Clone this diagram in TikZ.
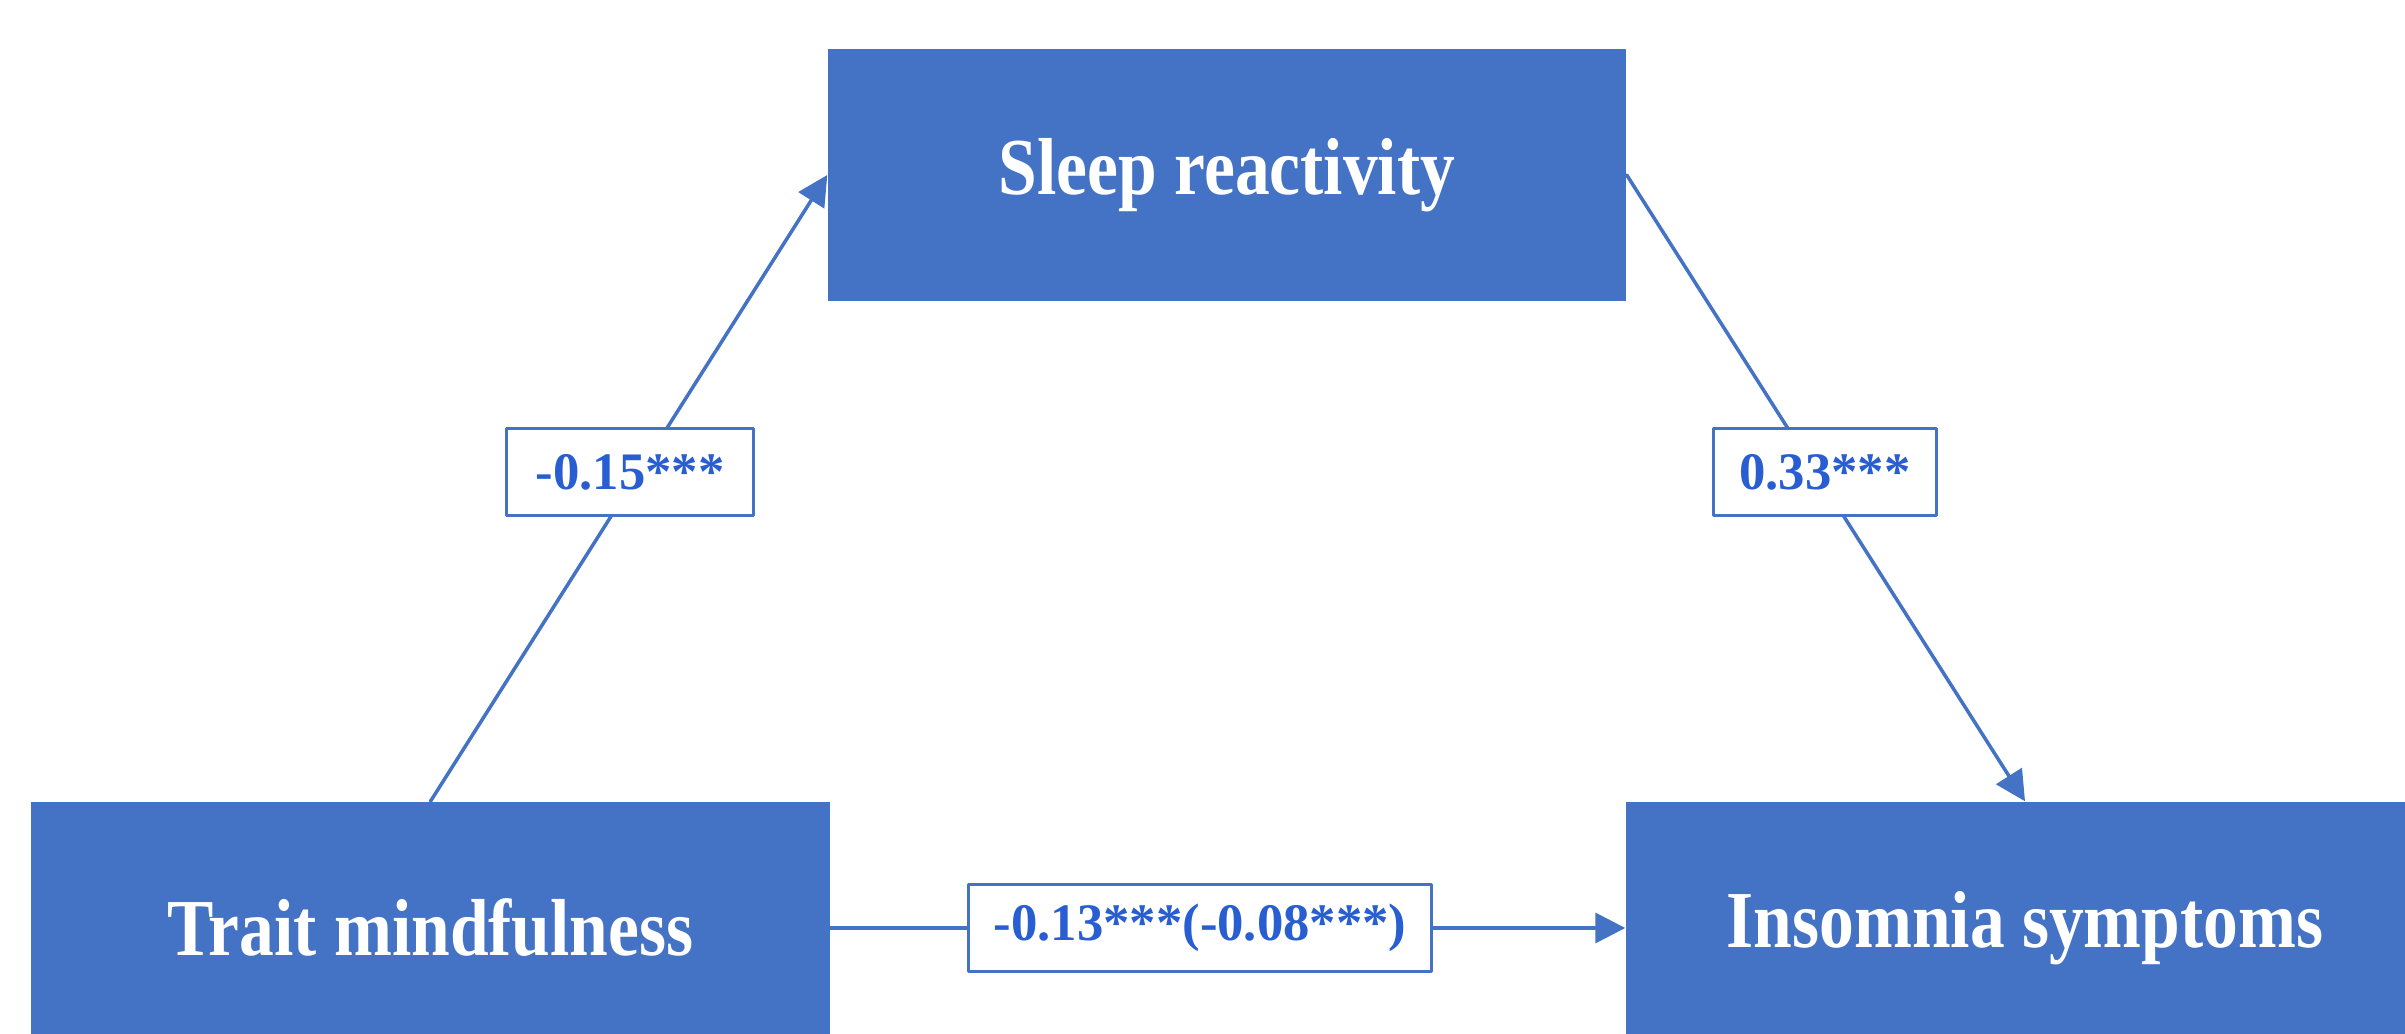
\documentclass[tikz,border=0pt]{standalone}
\usepackage{fontspec}
\setmainfont{Liberation Serif}
\newfontfamily\narrowfont{Liberation Serif}[FakeStretch=0.86]
\usetikzlibrary{arrows.meta}
\definecolor{boxblue}{RGB}{68,114,196}
\definecolor{textblue}{RGB}{40,94,210}
\tikzset{
  varbox/.style={fill=boxblue, text=white, minimum width=7.98cm, minimum height=2.52cm,
    inner sep=0pt, font=\narrowfont\bfseries\fontsize{23}{28}\selectfont},
  coef/.style={draw=boxblue, line width=0.6pt, fill=white, text=textblue,
    inner sep=0pt, minimum height=0.87cm, font=\bfseries\fontsize{15}{18}\selectfont},
  link/.style={draw=boxblue, line width=1pt, -{Triangle[length=3mm,width=3mm]}}
}
\begin{document}
\begin{tikzpicture}[line join=round, line cap=round]
	\useasboundingbox (0,0) rectangle (24.05,10.34);
	\clip (0,0) rectangle (24.05,10.34);
	
	\node[varbox] (S) at (12.27,8.59) {Sleep reactivity};
	\node[varbox] (T) at (4.305,1.06) {Trait mindfulness};
	\node[varbox] (I) at (20.25,1.06) {Insomnia symptoms};
	
	\draw[link] (T.north) -- (S.west);
	\draw[link] (S.east) -- (I.north);
	\draw[link] (T.east) -- (I.west);
	
	% coefficients on the paths
	\node[coef, minimum width=2.47cm] (a) at (6.30,5.62) {-0.15***};
	\node[coef, minimum width=2.23cm] (b) at (18.25,5.62) {0.33***};
	\node[coef, minimum width=4.63cm] (c) at (12.00,1.06) {-0.13***(-0.08***)};
\end{tikzpicture}
\end{document}
